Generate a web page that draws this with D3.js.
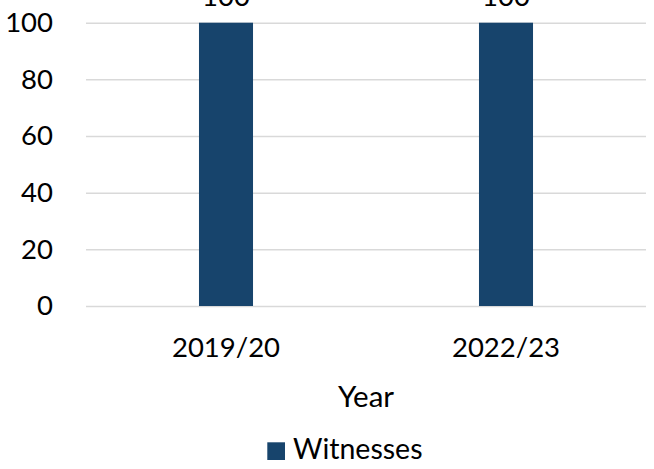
<!DOCTYPE html>
<html>
<head>
<meta charset="utf-8">
<script src="https://cdn.jsdelivr.net/npm/d3@7/dist/d3.min.js"></script>
<style>
  html, body { margin: 0; padding: 0; background: #fff; }
  svg { display: block; }
  text { font-family: Lato, "Open Sans", sans-serif; fill: #000; }
</style>
</head>
<body>
<svg id="chart" width="654" height="469"></svg>
<script>
// Chart data
const categories = ["2019/20", "2022/23"];
const witnesses = [100, 100];
const yTicks = [0, 20, 40, 60, 80, 100];
const seriesName = "Witnesses";
const xTitle = "Year";

const barColor = "#17446c";
const gridColor = "#d9d9d9";
const fontSize = 27.5;

const svg = d3.select("#chart");
const plot = { left: 86, right: 646, top: 22.7, bottom: 306 };

const x = d3.scaleBand()
  .domain(categories)
  .range([plot.left, plot.right])
  .paddingInner(0.807)
  .paddingOuter(0.4035);

const y = d3.scaleLinear()
  .domain([0, 100])
  .range([plot.bottom, plot.top]);

// Horizontal gridlines with left-side tick labels
const yAxis = d3.axisLeft(y)
  .tickValues(yTicks)
  .tickSize(-(plot.right - plot.left))
  .tickPadding(33)
  .tickFormat(d3.format("d"));

const gy = svg.append("g")
  .attr("transform", `translate(${plot.left},0)`)
  .call(yAxis);
gy.select(".domain").remove();
gy.selectAll(".tick line")
  .attr("stroke", gridColor)
  .attr("stroke-width", 1.5);
gy.selectAll(".tick text")
  .attr("font-size", fontSize)
  .attr("fill", "#000")
  .style("font-family", "Lato, 'Open Sans', sans-serif");

// Bars
svg.append("g")
  .selectAll("rect")
  .data(categories)
  .join("rect")
  .attr("x", d => x(d))
  .attr("width", x.bandwidth())
  .attr("y", (d, i) => y(witnesses[i]))
  .attr("height", (d, i) => y(0) - y(witnesses[i]))
  .attr("fill", barColor);

// Value labels above bars
svg.append("g")
  .selectAll("text")
  .data(categories)
  .join("text")
  .attr("x", d => x(d) + x.bandwidth() / 2)
  .attr("y", (d, i) => y(witnesses[i]) - 17)
  .attr("text-anchor", "middle")
  .attr("font-size", fontSize)
  .text((d, i) => witnesses[i]);

// Category labels
const xAxis = d3.axisBottom(x).tickSize(0).tickPadding(31);
const gx = svg.append("g")
  .attr("transform", `translate(0,${plot.bottom})`)
  .call(xAxis);
gx.select(".domain").remove();
gx.selectAll(".tick text")
  .attr("font-size", fontSize)
  .attr("fill", "#000")
  .style("font-family", "Lato, 'Open Sans', sans-serif");

// Axis title
svg.append("text")
  .attr("x", (plot.left + plot.right) / 2)
  .attr("y", 406.5)
  .attr("text-anchor", "middle")
  .attr("font-size", 29.5)
  .text(xTitle);

// Legend
const legend = svg.append("g");
legend.append("rect")
  .attr("x", 267.3)
  .attr("y", 442.3)
  .attr("width", 17.7)
  .attr("height", 17.7)
  .attr("fill", barColor);
legend.append("text")
  .attr("x", 293)
  .attr("y", 459)
  .attr("font-size", 28.5)
  .text(seriesName);
</script>
</body>
</html>
